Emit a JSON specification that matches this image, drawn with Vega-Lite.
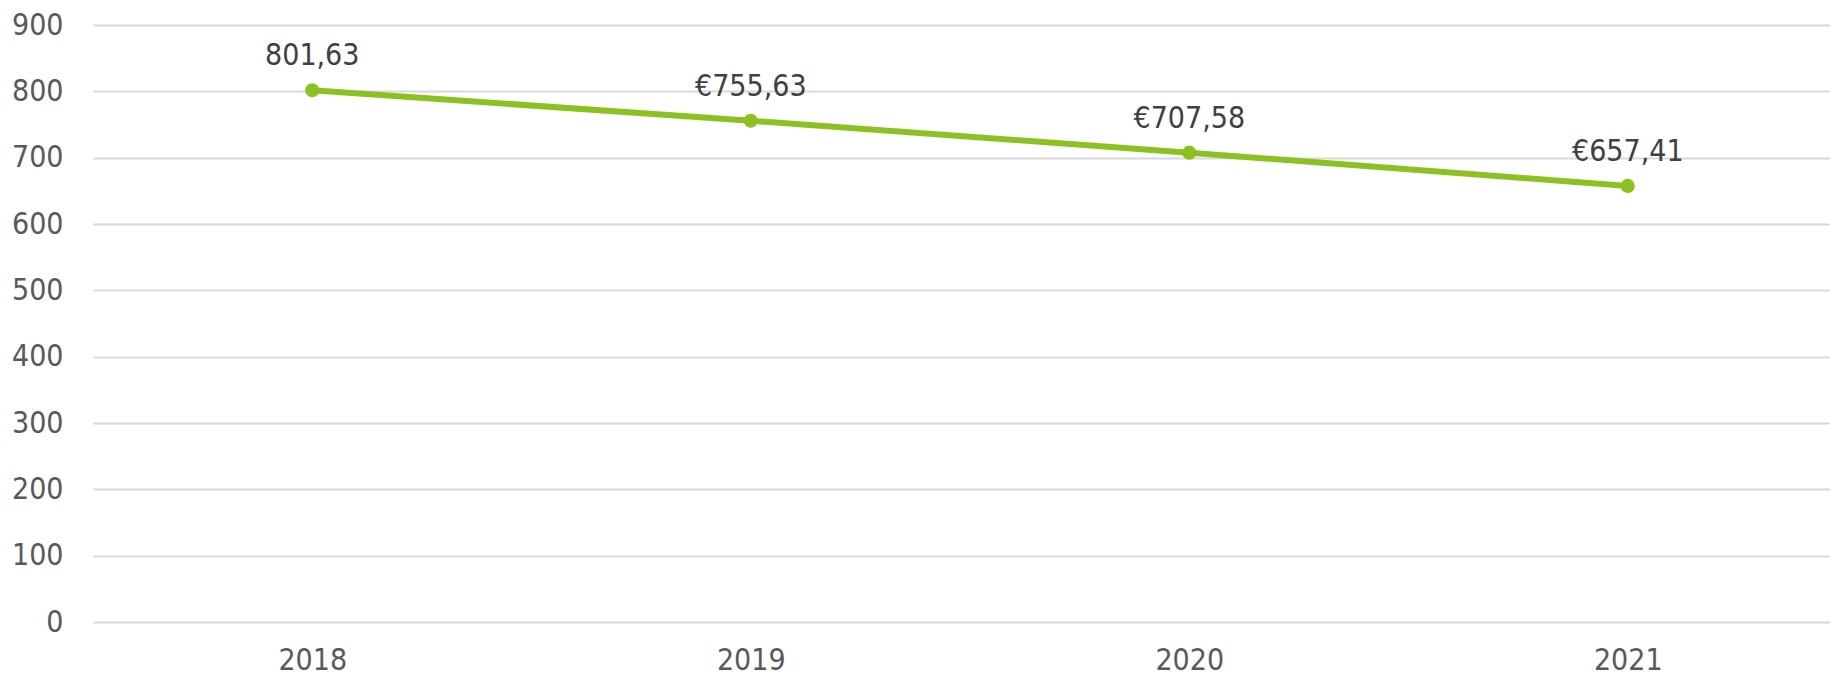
{
  "$schema": "https://vega.github.io/schema/vega-lite/v6.json",
  "autosize": {"type": "none"},
  "width": 1754,
  "height": 597,
  "padding": {"left": 93, "top": 25, "right": 0, "bottom": 54},
  "background": "white",
  "config": {
    "view": {"stroke": null},
    "font": "DejaVu Sans Condensed"
  },
  "data": {
    "values": [
      {"year": "2018", "value": 801.63, "label": "801,63"},
      {"year": "2019", "value": 755.63, "label": "€755,63"},
      {"year": "2020", "value": 707.58, "label": "€707,58"},
      {"year": "2021", "value": 657.41, "label": "€657,41"}
    ]
  },
  "encoding": {
    "x": {
      "field": "year",
      "type": "nominal",
      "scale": {"type": "point", "padding": 0.5},
      "axis": {
        "title": null,
        "labelAngle": 0,
        "domain": false,
        "ticks": false,
        "grid": false,
        "labelFont": "DejaVu Sans Condensed",
        "labelFontSize": 30,
        "labelColor": "#595959",
        "labelPadding": 23
      }
    },
    "y": {
      "field": "value",
      "type": "quantitative",
      "scale": {"domain": [0, 900], "nice": false, "zero": true},
      "axis": {
        "title": null,
        "values": [0, 100, 200, 300, 400, 500, 600, 700, 800, 900],
        "domain": false,
        "ticks": false,
        "grid": true,
        "gridColor": "#d9d9d9",
        "gridWidth": 2,
        "labelFont": "DejaVu Sans Condensed",
        "labelFontSize": 30,
        "labelColor": "#595959",
        "labelPadding": 30
      }
    }
  },
  "layer": [
    {
      "mark": {"type": "line", "color": "#8dc021", "strokeWidth": 6}
    },
    {
      "mark": {"type": "point", "filled": true, "color": "#8dc021", "size": 200, "opacity": 1}
    },
    {
      "mark": {
        "type": "text",
        "baseline": "alphabetic",
        "align": "center",
        "dy": -25,
        "fontSize": 30,
        "font": "DejaVu Sans Condensed",
        "color": "#404040"
      },
      "encoding": {"text": {"field": "label"}}
    }
  ]
}
